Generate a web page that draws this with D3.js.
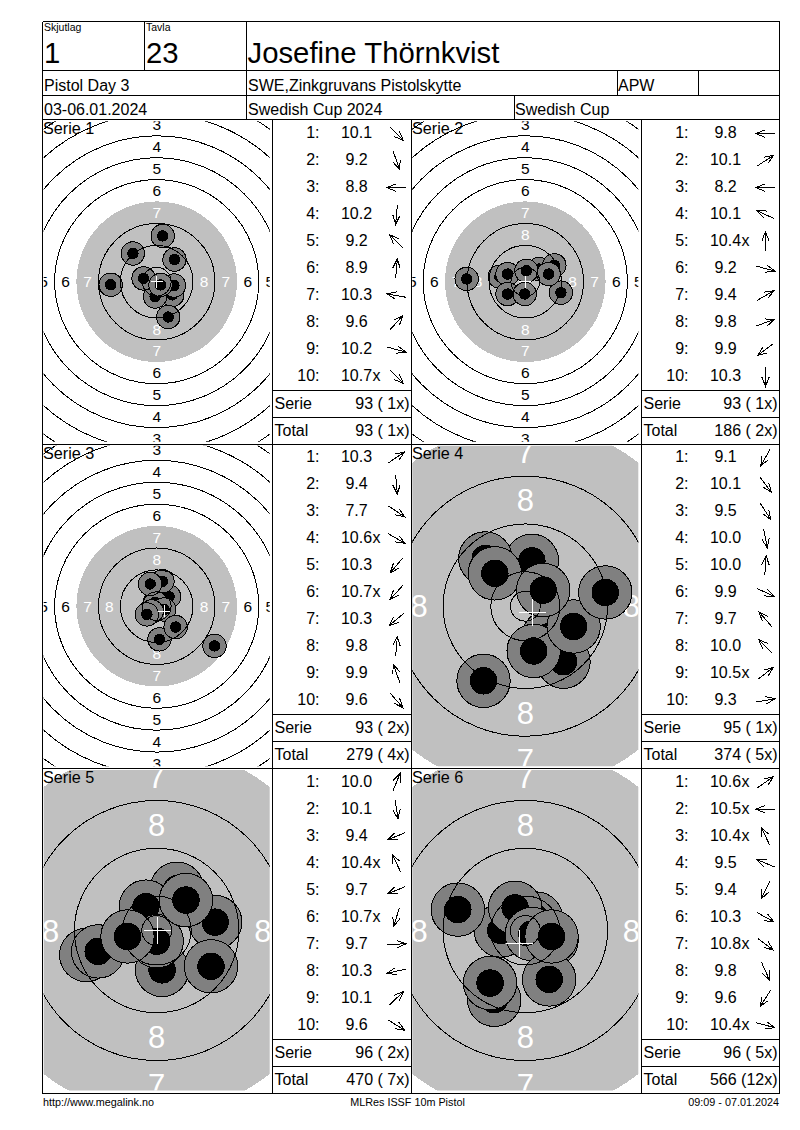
<!DOCTYPE html>
<html><head><meta charset="utf-8">
<script src="https://cdn.jsdelivr.net/npm/d3@7"></script>
<style>
html,body{margin:0;padding:0;background:#fff}
svg{display:block}
text{font-family:"Liberation Sans",Arial,sans-serif;fill:#000}
</style></head><body><div id="c"></div>
<script>
// ---------- header ----------
const shootLabel="Skjutlag", shootNo="1", laneLabel="Tavla", laneNo="23";
const athlete="Josefine Thörnkvist", dayName="Pistol Day 3", club="SWE,Zinkgruvans Pistolskytte", klass="APW";
const dates="03-06.01.2024", cupYear="Swedish Cup 2024", cupName="Swedish Cup";
const footLeft="http://www.megalink.no", footMid="MLRes ISSF 10m Pistol", footRight="09:09 - 07.01.2024";
// ---------- series ----------
const serieNames=["Serie 1","Serie 2","Serie 3","Serie 4","Serie 5","Serie 6"];
const serieSums=["93 ( 1x)","93 ( 1x)","93 ( 2x)","95 ( 1x)","96 ( 2x)","96 ( 5x)"];
const totalSums=["93 ( 1x)","186 ( 2x)","279 ( 4x)","374 ( 5x)","470 ( 7x)","566 (12x)"];
const zoomed=[false,false,false,true,true,true];
const scores1=["10.1","9.2","8.8","10.2","9.2","8.9","10.3","9.6","10.2","10.7x"];
const scores2=["9.8","10.1","8.2","10.1","10.4x","9.2","9.4","9.8","9.9","10.3"];
const scores3=["10.3","9.4","7.7","10.6x","10.3","10.7x","10.3","9.8","9.9","9.6"];
const scores4=["9.1","10.1","9.5","10.0","10.0","9.9","9.7","10.0","10.5x","9.3"];
const scores5=["10.0","10.1","9.4","10.4x","9.7","10.7x","9.7","10.3","10.1","9.6"];
const scores6=["10.6x","10.5x","10.4x","9.5","9.4","10.3","10.8x","9.8","9.6","10.4x"];
// arrow bearing, degrees clockwise from north
const bearings1=[135,160,270,185,315,5,280,42,105,135];
const bearings2=[270,57,270,295,359,105,60,70,233,180];
const bearings3=[56,175,124,120,220,222,230,5,340,139];
const bearings4=[209,143,147,169,4,115,319,315,52,80];
const bearings5=[22,171,248,335,248,197,87,258,46,122];
const bearings6=[55,270,335,293,207,119,127,156,213,105];
// shot position on the target, millimetres from the centre (y down)
const shotX1=[5.7,4.2,-16.8,-0.6,-8.7,2.2,-4.8,6.5,6.3,1.4];
const shotY1=[4.8,12.9,1.1,5.4,-10.3,-16.7,-1.2,-8.1,1.4,1.2];
const shotX2=[-9.3,5.0,-21.4,-6.5,0.4,13.0,10.6,8.5,-6.5,-0.2];
const shotY2=[-1.8,-4.6,-1.0,-2.8,-4.0,4.0,-6.0,-2.8,4.5,4.5];
const shotX3=[4.5,1.0,21.1,-0.6,2.7,-1.8,-3.6,2.1,-2.4,6.9];
const shotY3=[-3.5,12.1,14.5,-1.4,1.2,1.9,3.0,-9.1,-8.1,7.6];
const shotX4=[-7.0,3.9,6.4,1.4,1.1,8.1,-6.7,-5.1,3.0,13.4];
const shotY4=[12.5,5.1,9.3,7.5,-7.6,3.4,-8.0,-5.5,-2.7,-2.3];
const shotX5=[3.4,0.9,-11.8,-1.8,-9.8,0,9.8,-4.9,4.9,9.1];
const shotY5=[-7.0,6.6,4.1,-4.0,3.5,1.8,-1.4,1.0,-5.1,6.0];
const shotX6=[1.8,-4.1,-1.7,-11.3,-5.2,4.4,1.1,4.0,-5.9,4.4];
const shotY6=[-2.0,0,-3.8,-3.5,11.6,1.6,0.6,8.2,8.8,1.0];
// white cross, millimetres from the centre
const crossX=[0,0,2.7,1.2,0.1,-0.9];
const crossY=[0,0,1.9,1.1,0,2.1];
// target rings drawn, and the numbers written on the target
const ringValues=[10,9,8,6,5,4,3,2];
const labelValues=[3,4,5,6,7,8];

const allScores=[scores1,scores2,scores3,scores4,scores5,scores6];
const allBearings=[bearings1,bearings2,bearings3,bearings4,bearings5,bearings6];
const allX=[shotX1,shotX2,shotX3,shotX4,shotX5,shotX6];
const allY=[shotY1,shotY2,shotY3,shotY4,shotY5,shotY6];

const small={pxPerMm:2.74,ten:5.25,grey:29.3,hole:2.08,disc:4.27,cross:6,font:15.5,xring:false};
const large={pxPerMm:5.97,ten:5.78,grey:30.6,hole:2.3,disc:4.47,cross:13.5,font:31,xring:true};

const colX=[42.5,272.5,411.5,641.5,779.5];
const rowY=[119.5,444.5,768.5,1093.5];
const centreX=[156.7,525.3], centreY=[281.7,606.2,930.5];
const serieLineY=[[390.5,417.5],[714.5,741.5],[1039.5,1066.5]];
const listTop=[132.6,456.4,781.2];
const halfW=113, halfH=160.5;

const svg=d3.select("#c").append("svg").attr("width",800).attr("height",1130);
const defs=svg.append("defs");

function rule(x1,y1,x2,y2){svg.append("line").attr("x1",x1).attr("y1",y1).attr("x2",x2).attr("y2",y2)
  .attr("stroke","#000").attr("shape-rendering","crispEdges");}
function label(x,y,t,size,anchor){return svg.append("text").attr("x",x).attr("y",y).attr("dy",".36em")
  .attr("font-size",size).attr("text-anchor",anchor||"start").text(t);}

allScores.forEach((scores,i)=>{
  const col=i%2,row=Math.floor(i/2),cfg=zoomed[i]?large:small;
  const cx=centreX[col],cy=centreY[row],pm=cfg.pxPerMm;
  const sx=d3.scaleLinear().domain([-1,1]).range([cx-pm,cx+pm]);
  const sy=d3.scaleLinear().domain([-1,1]).range([cy-pm,cy+pm]);
  const len=d3.scaleLinear().domain([0,1]).range([0,pm]);
  const ringR=v=>cfg.ten+8*(10-v);
  const id="clip"+i;
  defs.append("clipPath").attr("id",id).append("rect")
    .attr("x",cx-halfW).attr("y",cy-halfH).attr("width",2*halfW).attr("height",2*halfH-.5);
  const g=svg.append("g").attr("clip-path",`url(#${id})`);
  // grey aiming black
  g.append("circle").attr("cx",sx(0)).attr("cy",sy(0)).attr("r",len(cfg.grey))
    .attr("fill","#c0c0c0").attr("shape-rendering","crispEdges");
  // numbers: up, down, left, right; only those that reach into the panel
  const spots=[];
  labelValues.forEach(v=>{
    const d=ringR(v)-4;
    spots.push({v,x:0,y:-d},{v,x:0,y:d});
    spots.push({v,x:-d,y:0},{v,x:d,y:0});
  });
  const shown=spots.filter(d=>Math.abs(len(d.y))<halfH+cfg.font*.36 && Math.abs(len(d.x))<halfW+cfg.font*.28);
  g.selectAll("text.n").data(shown).join("text").attr("class","n")
    .attr("x",d=>sx(d.x)).attr("y",d=>sy(d.y)).attr("dy",".36em").attr("text-anchor","middle")
    .attr("font-size",cfg.font).style("fill",d=>d.v>=7?"#fff":"#000").text(d=>d.v);
  // shots in order
  const shots=scores.map((s,k)=>({x:allX[i][k],y:allY[i][k]}));
  const sg=g.selectAll("g.s").data(shots).join("g").attr("class","s").attr("shape-rendering","crispEdges");
  sg.append("circle").attr("cx",d=>sx(d.x)).attr("cy",d=>sy(d.y)).attr("r",len(cfg.disc))
    .attr("fill","#808080").attr("stroke","#000");
  sg.append("circle").attr("cx",d=>sx(d.x)).attr("cy",d=>sy(d.y)).attr("r",len(cfg.hole)).attr("fill","#000");
  // rings over shots
  const rr=ringValues.map(ringR); if(cfg.xring) rr.push(2.5);
  g.selectAll("circle.r").data(rr).join("circle").attr("class","r")
    .attr("cx",sx(0)).attr("cy",sy(0)).attr("r",d=>len(d))
    .attr("fill","none").attr("stroke","#000").attr("shape-rendering","crispEdges");
  // cross
  const kx=sx(crossX[i]),ky=sy(crossY[i]);
  g.append("path").attr("d",`M${kx-cfg.cross},${ky}H${kx+cfg.cross}M${kx},${ky-cfg.cross}V${ky+cfg.cross}`)
    .attr("stroke","#fff").attr("fill","none").attr("shape-rendering","crispEdges");

  // score list
  const left=colX[col*2+1], end=colX[col*2+2];
  const yRow=d3.scaleLinear().domain([0,9]).range([listTop[row],listTop[row]+243]);
  scores.forEach((s,k)=>{
    const y=yRow(k);
    label(left+47,y,(k+1)+":",16,"end");
    const isX=s.endsWith("x"),num=isX?s.slice(0,-1):s;
    label(left+84,y,num,16,"middle");
    if(isX) label(left+100,y,"x",16);
    const b=allBearings[i][k]*Math.PI/180,dx=Math.sin(b),dy=-Math.cos(b),L=9.7,ax=left+124,ay=y+1;
    const tip=[ax+dx*L,ay+dy*L],tail=[ax-dx*L,ay-dy*L];
    const barb=a=>[tip[0]-10*Math.sin(b+a),tip[1]+10*Math.cos(b+a)];
    const p=d3.path();p.moveTo(...tail);p.lineTo(...tip);p.moveTo(...barb(.38));p.lineTo(...tip);p.lineTo(...barb(-.38));
    svg.append("path").attr("d",p.toString()).attr("fill","none").attr("stroke","#000").attr("shape-rendering","crispEdges");
  });
  const [l1,l2]=serieLineY[row];
  rule(left,l1,end,l1); rule(left,l2,end,l2);
  label(left+2,l1+13,"Serie",16);
  label(end-2,l1+13,serieSums[i],16,"end");
  label(left+2,l2+13,"Total",16);
  label(end-2,l2+13,totalSums[i],16,"end");
  label(colX[col*2]+.5,rowY[row]+9,serieNames[i],16.2);
});

// table frame
[42.5,779.5].forEach(x=>rule(x,21.5,x,1093.5));
[21.5,70.5,95.5,119.5,444.5,768.5,1093.5].forEach(y=>rule(42.5,y,779.5,y));
rule(144.5,21.5,144.5,70.5);
rule(246.5,21.5,246.5,119.5);
rule(617.5,70.5,617.5,95.5); rule(698.5,70.5,698.5,95.5); rule(514.5,95.5,514.5,119.5);
[272.5,411.5,641.5].forEach(x=>rule(x,119.5,x,1093.5));

// header text
label(44,27.5,shootLabel,10.5); label(146,27.5,laneLabel,10.5);
label(44,52.7,shootNo,29.3); label(146,52.7,laneNo,29.3); label(247.5,52.7,athlete,29.3);
label(44,85.5,dayName,16); label(248,85.5,club,16); label(618,85.5,klass,16);
label(44,109.5,dates,16); label(248,109.5,cupYear,16); label(515,109.5,cupName,16);
label(43,1102,footLeft,10.8); label(407.5,1102,footMid,10.8,"middle"); label(779,1102,footRight,10.8,"end");
</script></body></html>
